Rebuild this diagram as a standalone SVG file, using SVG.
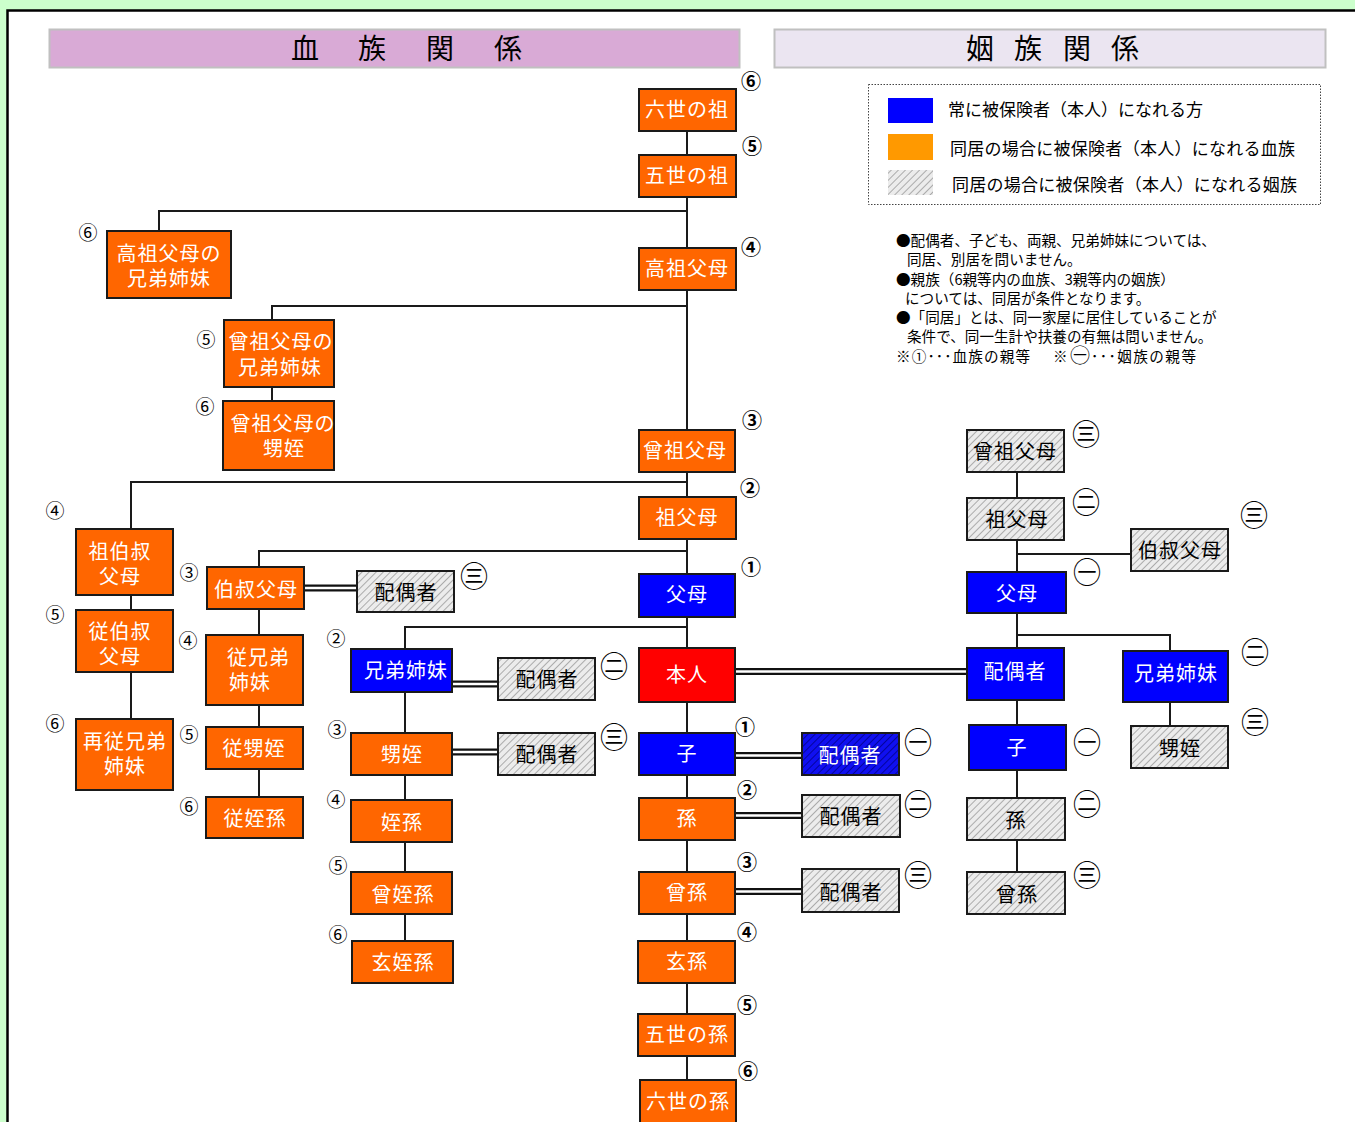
<svg xmlns="http://www.w3.org/2000/svg" width="1355" height="1122" viewBox="0 0 1355 1122">
<defs>
<pattern id="hatch" patternUnits="userSpaceOnUse" width="5" height="5" patternTransform="rotate(45)">
<rect width="5" height="5" fill="#ececec"/>
<line x1="0" y1="0" x2="0" y2="5" stroke="#a0a0a0" stroke-width="1.7"/>
</pattern>
<pattern id="hatchBlue" patternUnits="userSpaceOnUse" width="5" height="5" patternTransform="rotate(45)">
<rect width="5" height="5" fill="#1010f0"/>
<line x1="0" y1="0" x2="0" y2="5" stroke="#000088" stroke-width="1.6"/>
</pattern>
</defs>
<style>
text{font-family:"Noto Sans CJK JP","Noto Sans CJK SC",sans-serif;}
.node rect{stroke:#1a1a1a;stroke-width:2;}
.o rect{fill:#ff6600;}
.b rect{fill:#0000ff;}
.r rect{fill:#ff0000;}
.h rect{fill:url(#hatch);}
.hb rect{fill:url(#hatchBlue);}
.node text{font-size:20px;letter-spacing:1px;text-anchor:middle;}
.o text,.b text,.r text,.hb text{fill:#ffffff;}
.h text{fill:#000000;}
.ln{stroke:#1a1a1a;stroke-width:2;fill:none;}
.dbl{stroke:#111;stroke-width:7;fill:none;}
.dbw{stroke:#fff;stroke-width:2.6;fill:none;}
.cn{font-size:19px;text-anchor:middle;fill:#000;}
.cnb{font-size:20px;text-anchor:middle;fill:#000;font-weight:700;}
.ci{font-size:28px;text-anchor:middle;fill:#000;}
.lg{font-size:17px;fill:#000;}
.nt{font-size:14.6px;fill:#000;}
</style>
<rect x="0" y="0" width="1355" height="1122" fill="#ccffcc"/>
<rect x="7.5" y="10.5" width="1360" height="1130" fill="#ffffff" stroke="#000" stroke-width="2.5"/>

<g id="header-blood">
<rect x="49.5" y="29.5" width="690" height="38" fill="#d9aad6" stroke="#c0c0c0" stroke-width="2"/>
<text x="305 372 440 508" y="59" font-size="28" text-anchor="middle" fill="#000">血族関係</text>
</g>
<g id="header-affinity">
<rect x="774.5" y="29.5" width="551" height="38" fill="#ebe5f1" stroke="#c0c0c0" stroke-width="2"/>
<text x="980 1028 1077 1125" y="59" font-size="28" text-anchor="middle" fill="#000">姻族関係</text>
</g>

<g id="legend">
<rect x="868.5" y="84.5" width="452" height="120" fill="#fff" stroke="#444" stroke-width="1" stroke-dasharray="1.5,1.5"/>
<rect x="888" y="98" width="45" height="25" fill="#0000ff"/>
<rect x="888" y="134" width="45" height="26" fill="#ff9900"/>
<rect x="888" y="170" width="45" height="25" fill="url(#hatch)"/>
<text class="lg" x="948" y="116">常に被保険者（本人）になれる方</text>
<text class="lg" x="950" y="155" textLength="345">同居の場合に被保険者（本人）になれる血族</text>
<text class="lg" x="952" y="191" textLength="345">同居の場合に被保険者（本人）になれる姻族</text>
</g>

<g id="notes">
<text class="nt" x="896" y="246">●配偶者、子ども、両親、兄弟姉妹については、</text>
<text class="nt" x="907" y="265">同居、別居を問いません。</text>
<text class="nt" x="896" y="285">●親族（6親等内の血族、3親等内の姻族）</text>
<text class="nt" x="905" y="304">については、同居が条件となります。</text>
<text class="nt" x="896" y="323">●「同居」とは、同一家屋に居住していることが</text>
<text class="nt" x="907" y="342">条件で、同一生計や扶養の有無は問いません。</text>
<text class="nt" x="896" y="362" textLength="134">※①･･･血族の親等</text>
<text class="nt" x="1053" y="362">※</text>
<text x="1080" y="363" font-size="20" text-anchor="middle" fill="#000">㊀</text>
<text class="nt" x="1091" y="362" textLength="105">･･･姻族の親等</text>
</g>

<g id="connectors">
<path class="ln" d="M687 131V1080"/>
<path class="ln" d="M159 231V211H687"/>
<path class="ln" d="M272 320V306H687M272 387V401"/>
<path class="ln" d="M131 529V482H687M131 595V610M131 672V719"/>
<path class="ln" d="M259 567V551H687M259 609V635M259 705V727M259 769V797"/>
<path class="ln" d="M405 649V627H687M405 692V733M405 775V800M405 842V872M405 914V941"/>
<path class="ln" d="M1017 472V498M1017 540V572M1017 554H1131M1017 613V648M1017 635H1170V651M1170 702V726M1017 700V725M1017 770V798M1017 840V872"/>
<path class="dbl" d="M304 588H357M452 684H498M452 752H498M735 671.5H967M735 755.5H802M735 815.5H802M735 891.5H802"/>
<path class="dbw" d="M304 588H357M452 684H498M452 752H498M735 671.5H967M735 755.5H802M735 815.5H802M735 891.5H802"/>
</g>

<g id="n-rokusei-so" class="node o"><rect x="639" y="89" width="97" height="42"/><text x="687" y="117">六世の祖</text></g>
<g id="n-gosei-so" class="node o"><rect x="639" y="155" width="97" height="42"/><text x="687" y="183">五世の祖</text></g>
<g id="n-kouso" class="node o"><rect x="639" y="248" width="97" height="42"/><text x="687" y="276">高祖父母</text></g>
<g id="n-souso" class="node o"><rect x="639" y="430" width="96" height="42"/><text x="685" y="458">曾祖父母</text></g>
<g id="n-sofubo" class="node o"><rect x="639" y="497" width="97" height="42"/><text x="687" y="525">祖父母</text></g>
<g id="n-fubo" class="node b"><rect x="639" y="574" width="96" height="43"/><text x="687" y="602">父母</text></g>
<g id="n-honnin" class="node r"><rect x="639" y="648" width="96" height="54"/><text x="687" y="682">本人</text></g>
<g id="n-ko" class="node b"><rect x="639" y="733" width="96" height="42"/><text x="687" y="761">子</text></g>
<g id="n-mago" class="node o"><rect x="639" y="798" width="96" height="42"/><text x="687" y="826">孫</text></g>
<g id="n-himago" class="node o"><rect x="639" y="872" width="96" height="42"/><text x="687" y="900">曾孫</text></g>
<g id="n-genson" class="node o"><rect x="638" y="941" width="97" height="42"/><text x="687" y="969">玄孫</text></g>
<g id="n-gosei-son" class="node o"><rect x="638" y="1014" width="97" height="42"/><text x="687" y="1042">五世の孫</text></g>
<g id="n-rokusei-son" class="node o"><rect x="640" y="1080" width="96" height="46"/><text x="688" y="1109">六世の孫</text></g>

<g id="n-kouso-kyodai" class="node o"><rect x="107" y="231" width="124" height="67"/><text x="169" y="261">高祖父母の<tspan x="169" y="286">兄弟姉妹</tspan></text></g>
<g id="n-souso-kyodai" class="node o"><rect x="224" y="320" width="110" height="67"/><text x="281" y="349">曾祖父母の<tspan x="280" y="375">兄弟姉妹</tspan></text></g>
<g id="n-souso-oimei" class="node o"><rect x="223" y="401" width="111" height="69"/><text x="283" y="431">曾祖父母の<tspan x="284" y="456">甥姪</tspan></text></g>
<g id="n-so-hakushuku" class="node o"><rect x="76" y="529" width="97" height="66"/><text x="120" y="559">祖伯叔<tspan x="120" y="584">父母</tspan></text></g>
<g id="n-ju-hakushuku" class="node o"><rect x="76" y="610" width="97" height="62"/><text x="120" y="639">従伯叔<tspan x="120" y="664">父母</tspan></text></g>
<g id="n-saiju-kyodai" class="node o"><rect x="76" y="719" width="97" height="71"/><text x="125" y="749">再従兄弟<tspan x="125" y="774">姉妹</tspan></text></g>
<g id="n-hakushuku" class="node o"><rect x="207" y="567" width="97" height="42"/><text x="256" y="597">伯叔父母</text></g>
<g id="n-itoko" class="node o"><rect x="206" y="635" width="97" height="70"/><text x="227" y="665" style="text-anchor:start">従兄弟<tspan x="229" y="690">姉妹</tspan></text></g>
<g id="n-ju-oimei" class="node o"><rect x="206" y="727" width="97" height="42"/><text x="254" y="756">従甥姪</text></g>
<g id="n-ju-tetsuson" class="node o"><rect x="206" y="797" width="97" height="41"/><text x="255" y="826">従姪孫</text></g>
<g id="n-kyodai" class="node b"><rect x="351" y="649" width="101" height="43"/><text x="406" y="678">兄弟姉妹</text></g>
<g id="n-oimei" class="node o"><rect x="351" y="733" width="101" height="42"/><text x="402" y="762">甥姪</text></g>
<g id="n-tetsuson" class="node o"><rect x="351" y="800" width="101" height="42"/><text x="402" y="830">姪孫</text></g>
<g id="n-so-tetsuson" class="node o"><rect x="351" y="872" width="101" height="42"/><text x="403" y="902">曾姪孫</text></g>
<g id="n-gen-tetsuson" class="node o"><rect x="352" y="941" width="101" height="42"/><text x="403" y="970">玄姪孫</text></g>

<g id="n-sp-hakushuku" class="node h"><rect x="357" y="571" width="97" height="41"/><text x="406" y="600">配偶者</text></g>
<g id="n-sp-kyodai" class="node h"><rect x="498" y="658" width="97" height="42"/><text x="547" y="687">配偶者</text></g>
<g id="n-sp-oimei" class="node h"><rect x="498" y="733" width="97" height="42"/><text x="547" y="762">配偶者</text></g>
<g id="n-sp-ko" class="node hb"><rect x="802" y="733" width="97" height="42"/><text x="850" y="763">配偶者</text></g>
<g id="n-sp-mago" class="node h"><rect x="802" y="795" width="98" height="42"/><text x="851" y="824">配偶者</text></g>
<g id="n-sp-himago" class="node h"><rect x="802" y="869" width="97" height="43"/><text x="851" y="900">配偶者</text></g>

<g id="n-a-souso" class="node h"><rect x="967" y="430" width="97" height="42"/><text x="1015" y="459">曾祖父母</text></g>
<g id="n-a-sofubo" class="node h"><rect x="967" y="498" width="97" height="42"/><text x="1017" y="527">祖父母</text></g>
<g id="n-a-hakushuku" class="node h"><rect x="1131" y="529" width="97" height="42"/><text x="1180" y="558">伯叔父母</text></g>
<g id="n-a-fubo" class="node b"><rect x="967" y="572" width="99" height="41"/><text x="1017" y="601">父母</text></g>
<g id="n-a-haigusha" class="node b"><rect x="967" y="648" width="97" height="52"/><text x="1015" y="679">配偶者</text></g>
<g id="n-a-kyodai" class="node b"><rect x="1123" y="651" width="105" height="51"/><text x="1176" y="681">兄弟姉妹</text></g>
<g id="n-a-oimei" class="node h"><rect x="1131" y="726" width="97" height="42"/><text x="1180" y="756">甥姪</text></g>
<g id="n-a-ko" class="node b"><rect x="969" y="725" width="97" height="45"/><text x="1017" y="755">子</text></g>
<g id="n-a-mago" class="node h"><rect x="967" y="798" width="98" height="42"/><text x="1016" y="828">孫</text></g>
<g id="n-a-himago" class="node h"><rect x="967" y="872" width="98" height="42"/><text x="1017" y="902">曾孫</text></g>

<g id="degrees-blood-main">
<text class="cnb" x="751" y="89">⑥</text>
<text class="cnb" x="752" y="154">⑤</text>
<text class="cnb" x="751" y="255">④</text>
<text class="cnb" x="752" y="428">③</text>
<text class="cnb" x="750" y="496">②</text>
<text class="cnb" x="751" y="575">①</text>
<text class="cnb" x="745" y="735">①</text>
<text class="cnb" x="747" y="798">②</text>
<text class="cnb" x="747" y="870">③</text>
<text class="cnb" x="747" y="940">④</text>
<text class="cnb" x="747" y="1013">⑤</text>
<text class="cnb" x="748" y="1079">⑥</text>
</g>
<g id="degrees-blood-side">
<text class="cn" x="88" y="240">⑥</text>
<text class="cn" x="206" y="347">⑤</text>
<text class="cn" x="205" y="414">⑥</text>
<text class="cn" x="55" y="518">④</text>
<text class="cn" x="55" y="622">⑤</text>
<text class="cn" x="55" y="731">⑥</text>
<text class="cn" x="189" y="580">③</text>
<text class="cn" x="188" y="648">④</text>
<text class="cn" x="189" y="742">⑤</text>
<text class="cn" x="189" y="814">⑥</text>
<text class="cn" x="336" y="646">②</text>
<text class="cn" x="337" y="737">③</text>
<text class="cn" x="336" y="807">④</text>
<text class="cn" x="338" y="873">⑤</text>
<text class="cn" x="338" y="942">⑥</text>
</g>
<g id="degrees-affinity">
<text class="ci" x="474" y="587">㊂</text>
<text class="ci" x="614" y="677">㊁</text>
<text class="ci" x="614" y="748">㊂</text>
<text class="ci" x="918" y="753">㊀</text>
<text class="ci" x="918" y="815">㊁</text>
<text class="ci" x="918" y="886">㊂</text>
<text class="ci" x="1086" y="445">㊂</text>
<text class="ci" x="1086" y="513">㊁</text>
<text class="ci" x="1254" y="526">㊂</text>
<text class="ci" x="1087" y="583">㊀</text>
<text class="ci" x="1255" y="663">㊁</text>
<text class="ci" x="1255" y="733">㊂</text>
<text class="ci" x="1087" y="753">㊀</text>
<text class="ci" x="1087" y="815">㊁</text>
<text class="ci" x="1087" y="886">㊂</text>
</g>
</svg>
